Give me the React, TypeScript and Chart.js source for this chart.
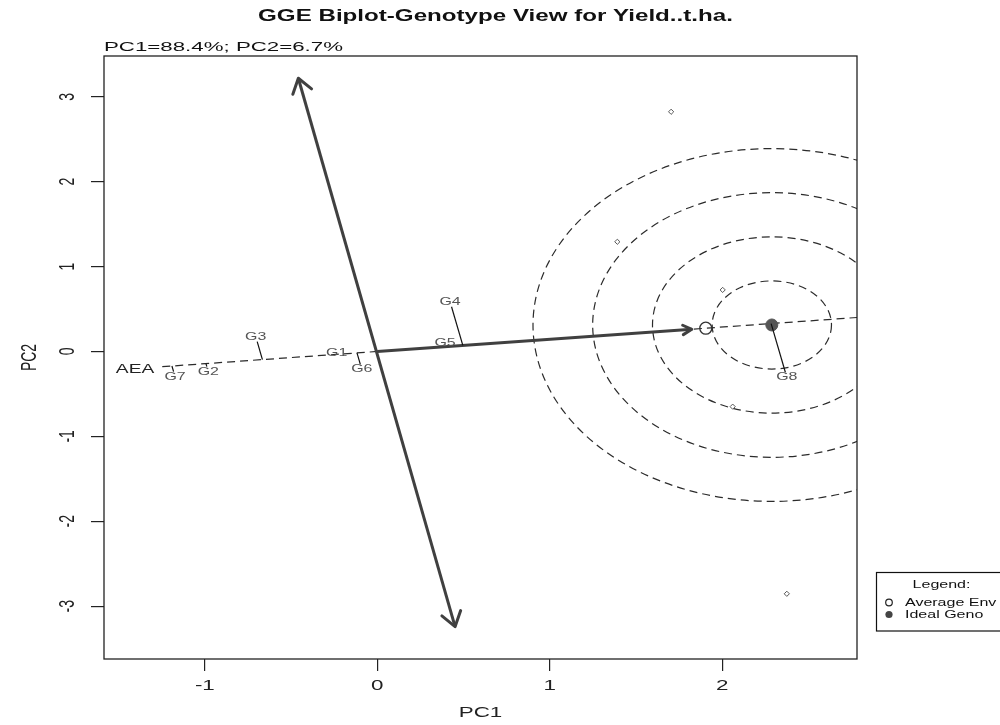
import React, { useEffect, useRef } from "react";
import { Chart, registerables } from "chart.js";

Chart.register(...registerables);

// ---------- data ----------
const genotypes = ["G1", "G2", "G3", "G4", "G5", "G6", "G7", "G8"];
const genoPC1 = [-0.236, -0.98, -0.705, 0.422, 0.393, -0.09, -1.173, 2.375];
const genoPC2 = [-0.014, -0.238, 0.174, 0.586, 0.104, -0.21, -0.297, -0.304];

const envPC1 = [1.704, 1.392, 2.003, 2.061, 2.375];
const envPC2 = [2.823, 1.292, 0.725, -0.65, -2.854];

const averageEnv = [1.905, 0.274];
const idealGeno = [2.288, 0.312];
const aeaArrowTip = [1.824, 0.261];
const atcTop = [-0.458, 3.218];
const atcBottom = [0.451, -3.241];
const aeaRange = [-1.26, 3.2]; // positions along the AEA axis (PC1-PC2 units)

const ringRadiiPC1 = [0.346, 0.692, 1.039, 1.385];
const ringAspect = 1.5;

const xTicks = [-1, 0, 1, 2];
const yTicks = [-3, -2, -1, 0, 1, 2, 3];
const xRange = [-1.585, 2.782];
const yRange = [-3.622, 3.48];

const titleText = "GGE Biplot-Genotype View for Yield..t.ha.";
const subtitleText = "PC1=88.4%; PC2=6.7%";
const xAxisLabel = "PC1";
const yAxisLabel = "PC2";
const aeaLabel = "AEA";
const legendTitle = "Legend:";
const legendItems = ["Average Env", "Ideal Geno"];

// ---------- helpers ----------
const FONT = '"Liberation Sans", Arial, Helvetica, sans-serif';
const STRETCH = 1.6;

const aeaLen = Math.hypot(averageEnv[0], averageEnv[1]);
const aeaU = [averageEnv[0] / aeaLen, averageEnv[1] / aeaLen];
const projectOnAEA = (px: number, py: number) => {
  const t = px * aeaU[0] + py * aeaU[1];
  return [t * aeaU[0], t * aeaU[1]];
};

function sText(
  ctx: CanvasRenderingContext2D,
  text: string,
  x: number,
  y: number,
  font: string,
  color: string,
  align: CanvasTextAlign,
  sx: number = STRETCH,
  rot: number = 0
) {
  ctx.save();
  ctx.translate(x, y);
  ctx.scale(sx, 1);
  if (rot) ctx.rotate(rot);
  ctx.font = font;
  ctx.fillStyle = color;
  ctx.textAlign = align;
  ctx.textBaseline = "middle";
  ctx.fillText(text, 0, 0);
  ctx.restore();
}

function arrowHead(
  ctx: CanvasRenderingContext2D,
  tipX: number,
  tipY: number,
  fromX: number,
  fromY: number,
  len: number,
  angleDeg: number,
  color: string,
  width: number
) {
  const ang = Math.atan2(fromY - tipY, fromX - tipX);
  const a = (angleDeg * Math.PI) / 180;
  ctx.save();
  ctx.strokeStyle = color;
  ctx.lineWidth = width;
  ctx.lineCap = "round";
  ctx.lineJoin = "round";
  ctx.beginPath();
  ctx.moveTo(tipX + len * Math.cos(ang + a), tipY + len * Math.sin(ang + a));
  ctx.lineTo(tipX, tipY);
  ctx.lineTo(tipX + len * Math.cos(ang - a), tipY + len * Math.sin(ang - a));
  ctx.stroke();
  ctx.restore();
}

const overlayPlugin = {
  id: "ggeOverlay",
  beforeDatasetsDraw(chart: any) {
    const { ctx, chartArea: a, scales } = chart;
    const x = scales.x;
    const y = scales.y;
    ctx.save();
    ctx.beginPath();
    ctx.rect(a.left, a.top, a.right - a.left, a.bottom - a.top);
    ctx.clip();
    const cx = x.getPixelForValue(idealGeno[0]);
    const cy = y.getPixelForValue(idealGeno[1]);
    ctx.setLineDash([8, 5]);
    ctx.lineWidth = 1.2;
    ctx.strokeStyle = "#2b2b2b";
    for (const r of ringRadiiPC1) {
      const rx = x.getPixelForValue(idealGeno[0] + r) - cx;
      const ry = cy - y.getPixelForValue(idealGeno[1] + r * ringAspect);
      ctx.beginPath();
      ctx.ellipse(cx, cy, rx, ry, 0, 0, Math.PI * 2);
      ctx.stroke();
    }
    ctx.restore();
  },
  afterDatasetsDraw(chart: any) {
    const { ctx, scales } = chart;
    const x = scales.x;
    const y = scales.y;
    const px = (v: number[]) => [x.getPixelForValue(v[0]), y.getPixelForValue(v[1])];

    // arrowheads
    const o = px([0, 0]);
    const top = px(atcTop);
    const bot = px(atcBottom);
    const tip = px(aeaArrowTip);
    arrowHead(ctx, top[0], top[1], o[0], o[1], 17, 35, "#404040", 3);
    arrowHead(ctx, bot[0], bot[1], o[0], o[1], 17, 35, "#404040", 3);
    arrowHead(ctx, tip[0], tip[1], o[0], o[1], 10, 28, "#404040", 3);

    // projection segments and genotype labels
    const meta = chart.getDatasetMeta(chart.data.datasets.length - 1);
    const hw = 10;
    const hh = 5;
    meta.data.forEach((el: any, i: number) => {
      const foot = px(projectOnAEA(genoPC1[i], genoPC2[i]));
      const dx = foot[0] - el.x;
      const dy = foot[1] - el.y;
      const L = Math.hypot(dx, dy);
      const ux = dx / (L || 1);
      const uy = dy / (L || 1);
      const t = Math.min(
        Math.abs(ux) > 1e-6 ? hw / Math.abs(ux) : 1e9,
        Math.abs(uy) > 1e-6 ? hh / Math.abs(uy) : 1e9
      );
      if (L > t) {
        ctx.save();
        ctx.strokeStyle = "#111";
        ctx.lineWidth = 1.2;
        ctx.beginPath();
        ctx.moveTo(el.x + ux * t, el.y + uy * t);
        ctx.lineTo(foot[0], foot[1]);
        ctx.stroke();
        ctx.restore();
      }
      sText(ctx, genotypes[i], el.x, el.y, `11px ${FONT}`, "#555", "center", 1.45);
    });

    // AEA label
    const start = px([aeaRange[0] * aeaU[0], aeaRange[0] * aeaU[1]]);
    sText(ctx, aeaLabel, start[0] - 8, start[1] + 3, `12px ${FONT}`, "#222", "right", 1.6);
  },
  afterDraw(chart: any) {
    const { ctx, chartArea: a, scales } = chart;
    const x = scales.x;
    const y = scales.y;

    // frame
    ctx.save();
    ctx.strokeStyle = "#222";
    ctx.lineWidth = 1.3;
    ctx.strokeRect(a.left, a.top, a.right - a.left, a.bottom - a.top);
    ctx.restore();

    // tick labels
    x.ticks.forEach((t: any) => {
      sText(ctx, String(t.value), x.getPixelForValue(t.value), a.bottom + 27, `14px ${FONT}`, "#222", "center");
    });
    y.ticks.forEach((t: any) => {
      sText(ctx, String(t.value), 68, y.getPixelForValue(t.value), `14px ${FONT}`, "#222", "center", STRETCH, -Math.PI / 2);
    });

    // titles
    const midX = (a.left + a.right) / 2;
    sText(ctx, titleText, midX + 15, 16, `bold 17px ${FONT}`, "#111", "center", 1.42);
    sText(ctx, subtitleText, a.left, 47, `13.5px ${FONT}`, "#111", "left", 1.65);
    sText(ctx, xAxisLabel, midX, 713, `14px ${FONT}`, "#222", "center");
    sText(ctx, yAxisLabel, 30, (a.top + a.bottom) / 2, `14px ${FONT}`, "#222", "center", STRETCH, -Math.PI / 2);

    // legend box
    ctx.save();
    ctx.strokeStyle = "#111";
    ctx.lineWidth = 1.2;
    ctx.strokeRect(876.5, 572.5, 130, 58.5);
    ctx.restore();
    sText(ctx, legendTitle, 941.5, 585, `10px ${FONT}`, "#111", "center");
    ctx.save();
    ctx.lineWidth = 1.2;
    ctx.strokeStyle = "#222";
    ctx.beginPath();
    ctx.arc(889, 602.5, 3.3, 0, Math.PI * 2);
    ctx.stroke();
    ctx.fillStyle = "#444";
    ctx.beginPath();
    ctx.arc(889, 614.5, 3.6, 0, Math.PI * 2);
    ctx.fill();
    ctx.restore();
    sText(ctx, legendItems[0], 905, 603, `10px ${FONT}`, "#111", "left");
    sText(ctx, legendItems[1], 905, 615, `10px ${FONT}`, "#111", "left");
  },
};

export default function App() {
  const ref = useRef<HTMLCanvasElement | null>(null);

  useEffect(() => {
    if (!ref.current) return;
    const aeaStart = { x: aeaRange[0] * aeaU[0], y: aeaRange[0] * aeaU[1] };
    const aeaEnd = { x: aeaRange[1] * aeaU[0], y: aeaRange[1] * aeaU[1] };

    const chart = new Chart(ref.current, {
      type: "scatter",
      data: {
        datasets: [
          {
            label: "Ideal Geno",
            data: [{ x: idealGeno[0], y: idealGeno[1] }],
            pointRadius: 6,
            pointBackgroundColor: "#555",
            pointBorderColor: "#555",
            order: 0,
          },
          {
            label: "Average Env",
            data: [{ x: averageEnv[0], y: averageEnv[1] }],
            pointRadius: 6,
            pointBackgroundColor: "rgba(255,255,255,0)",
            pointBorderColor: "#333",
            pointBorderWidth: 1.3,
            order: 1,
          },
          {
            label: "Environments",
            data: envPC1.map((v, i) => ({ x: v, y: envPC2[i] })),
            pointStyle: "rectRot",
            pointRadius: 2.6,
            pointBackgroundColor: "#fff",
            pointBorderColor: "#555",
            pointBorderWidth: 1,
            order: 2,
          },
          {
            label: "AEA arrow",
            data: [
              { x: 0, y: 0 },
              { x: aeaArrowTip[0], y: aeaArrowTip[1] },
            ],
            showLine: true,
            borderColor: "#404040",
            borderWidth: 3,
            pointRadius: 0,
            order: 3,
          },
          {
            label: "ATC",
            data: [
              { x: atcBottom[0], y: atcBottom[1] },
              { x: atcTop[0], y: atcTop[1] },
            ],
            showLine: true,
            borderColor: "#404040",
            borderWidth: 3,
            pointRadius: 0,
            order: 4,
          },
          {
            label: "AEA",
            data: [aeaStart, aeaEnd],
            showLine: true,
            borderColor: "#2b2b2b",
            borderWidth: 1.2,
            borderDash: [8, 5],
            pointRadius: 0,
            order: 5,
          },
          {
            label: "Genotypes",
            data: genoPC1.map((v, i) => ({ x: v, y: genoPC2[i] })),
            pointRadius: 0,
            order: 6,
          },
        ],
      },
      options: {
        responsive: false,
        animation: false,
        events: [],
        layout: { padding: { left: 91, right: 143, top: 56, bottom: 54 } },
        plugins: {
          legend: { display: false },
          tooltip: { enabled: false },
          title: { display: false },
        },
        scales: {
          x: {
            type: "linear",
            min: xRange[0],
            max: xRange[1],
            afterBuildTicks: (s: any) => {
              s.ticks = xTicks.map((v) => ({ value: v }));
            },
            ticks: { display: false },
            grid: { drawOnChartArea: false, drawTicks: true, tickLength: 12, color: "#222", lineWidth: 1.2 },
            border: { display: false },
          },
          y: {
            type: "linear",
            min: yRange[0],
            max: yRange[1],
            afterBuildTicks: (s: any) => {
              s.ticks = yTicks.map((v) => ({ value: v }));
            },
            ticks: { display: false },
            grid: { drawOnChartArea: false, drawTicks: true, tickLength: 13, color: "#222", lineWidth: 1.2 },
            border: { display: false },
          },
        },
      },
      plugins: [overlayPlugin],
    } as any);
    return () => chart.destroy();
  }, []);

  return (
    <div style={{ position: "absolute", left: 0, top: 0, width: 1000, height: 725, background: "#fff" }}>
      <canvas ref={ref} width={1000} height={725} style={{ display: "block" }} />
    </div>
  );
}
